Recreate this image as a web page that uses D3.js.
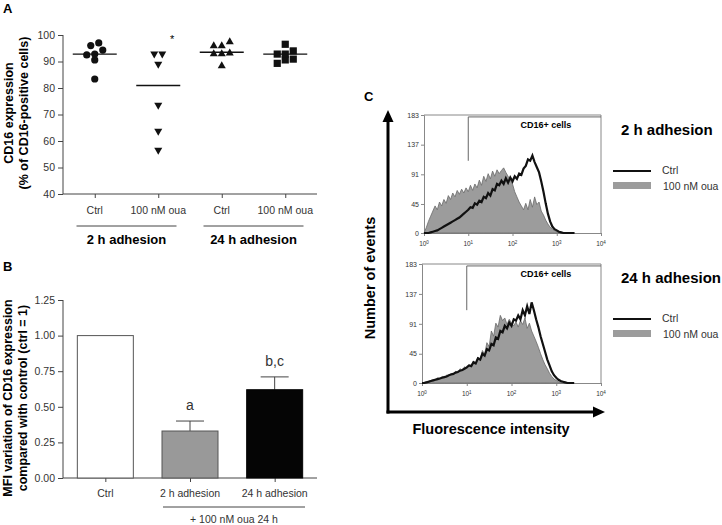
<!DOCTYPE html>
<html><head><meta charset="utf-8">
<script src="https://cdn.jsdelivr.net/npm/d3@7"></script>
<style>body{margin:0;background:#fff} text{font-family:"Liberation Sans",Arial,sans-serif}</style>
</head><body><svg id="c" width="722" height="525"></svg>
<script>
// ---------- Panel A data ----------
const aCategories = ["Ctrl", "100 nM oua", "Ctrl", "100 nM oua"];
const aGroups = ["2 h adhesion", "24 h adhesion"];
const aCtrl2h = [94.3, 92.5, 96, 97, 92.8, 90.6, 83.4];
const aOua2h = [92.6, 92.6, 88.7, 73.2, 63.4, 56.2];
const aCtrl24h = [97.7, 96.2, 96.2, 93.2, 93.2, 93.5, 88.7];
const aOua24h = [96.5, 92.8, 90.9, 89.3, 94, 90.6, 92.8];
const aSymbols = ["circle", "triDown", "triUp", "square"];
const aTicks = [40, 50, 60, 70, 80, 90, 100];
const aSignif = ["", "*", "", ""];
// ---------- Panel B data ----------
const bCategories = ["Ctrl", "2 h adhesion", "24 h adhesion"];
const bMeans = [1.00, 0.33, 0.62];
const bErrors = [0, 0.07, 0.09];
const bLetters = ["", "a", "b,c"];
const bTicks = [0, 0.25, 0.5, 0.75, 1.0, 1.25];
// ---------- Panel C data ----------
const cYTicks = [0, 45, 91, 137, 183];
const cXExponents = [0, 1, 2, 3, 4];
const cGate = 10;
const cLabels = ["2 h adhesion", "24 h adhesion"];
const cLegend = ["Ctrl", "100 nM oua"];
const gray2h = [0,8,18,26,34,42,36,48,42,52,46,58,52,62,56,66,60,68,62,70,64,74,66,76,70,82,74,88,80,92,84,96,88,98,92,97,101,94,88,82,76,64,56,48,42,36,46,36,52,40,56,44,48,34,28,20,14,9,6,4,2,1,0,0,0,0,0,0,0];
const ctrl2h = [0,0,0,1,2,3,4,6,8,10,12,14,16,18,20,22,24,27,30,33,36,40,39,46,44,50,48,56,54,62,58,68,66,76,74,81,76,85,78,86,80,88,84,92,90,100,104,114,112,120,110,102,94,80,64,46,30,18,10,6,4,2,1,0,0,0,0,0,0];
const gray24h = [0,1,2,3,4,5,6,8,7,10,9,12,11,15,13,18,16,22,19,25,22,28,26,34,30,40,36,50,44,62,56,80,72,92,86,104,96,100,90,98,92,88,94,86,96,90,100,84,92,80,72,64,55,45,36,28,22,15,10,6,4,2,1,0,0,0,0,0,0];
const ctrl24h = [0,0,1,2,3,4,5,6,7,8,9,10,12,13,14,16,17,19,20,22,24,27,26,32,30,38,36,45,42,52,50,60,58,70,68,80,78,88,84,93,88,98,96,104,98,112,104,118,106,124,112,98,86,72,60,48,36,27,18,12,8,5,3,2,1,0,0,0,0];

const svg = d3.select("#c");
const AX = "#444", TXT = "#333";

// ================= Panel A =================
svg.append("text").attr("x", 3).attr("y", 13).attr("font-size", 13).attr("font-weight", "bold").text("A");
const yA = d3.scaleLinear().domain([40, 100]).range([194, 35]);
const xA = d3.scalePoint().domain(d3.range(4)).range([63, 317]).padding(0.5);
const gAy = svg.append("g").attr("transform", "translate(63,0)")
  .call(d3.axisLeft(yA).tickValues(aTicks).tickSize(5).tickPadding(3));
const gAx = svg.append("g").attr("transform", "translate(0,194)")
  .call(d3.axisBottom(xA).tickSize(4).tickFormat(""));
[gAy, gAx].forEach(g => {
  g.select(".domain").attr("stroke", AX);
  g.selectAll(".tick line").attr("stroke", AX);
  g.selectAll(".tick text").attr("font-size", 10.5).attr("fill", TXT).attr("font-family", "Liberation Sans, Arial");
});
gAx.select(".domain").attr("d", "M63,0H317");
gAy.select(".domain").attr("d", "M0,194V35");

svg.append("g").selectAll("text").data(aCategories).join("text")
  .attr("x", (d, i) => xA(i)).attr("y", 214).attr("text-anchor", "middle")
  .attr("font-size", 10.5).attr("fill", TXT).text(d => d);
aGroups.forEach((g, gi) => {
  const cx = (xA(gi * 2) + xA(gi * 2 + 1)) / 2;
  svg.append("line").attr("x1", cx - 50).attr("x2", cx + 50).attr("y1", 226).attr("y2", 226).attr("stroke", AX);
  svg.append("text").attr("x", cx).attr("y", 244).attr("text-anchor", "middle")
    .attr("font-size", 13).attr("font-weight", "bold").text(g);
});
svg.append("text").attr("transform", "translate(13,113) rotate(-90)").attr("text-anchor", "middle")
  .attr("font-size", 12.5).attr("font-weight", "bold").text("CD16 expression");
svg.append("text").attr("transform", "translate(28,113) rotate(-90)").attr("text-anchor", "middle")
  .attr("font-size", 12.5).attr("font-weight", "bold").text("(% of CD16-positive cells)");

function layoutRows(vals, thr, step) {
  const idx = vals.map((v, i) => i).sort((a, b) => vals[b] - vals[a]);
  const rows = []; let cur = null;
  idx.forEach(i => {
    if (!cur || vals[cur[0]] - vals[i] > thr) { cur = [i]; rows.push(cur); } else cur.push(i);
  });
  const off = new Array(vals.length).fill(0);
  rows.forEach(r => {
    const s = r.slice().sort((a, b) => vals[a] - vals[b]);
    s.forEach((i, k) => off[i] = (k - (s.length - 1) / 2) * step);
  });
  return off;
}
const aSeries = [aCtrl2h, aOua2h, aCtrl24h, aOua24h];
aSeries.forEach((vals, ci) => {
  const off = layoutRows(vals, 2.4, 8);
  const cx = xA(ci);
  const g = svg.append("g");
  vals.forEach((v, i) => {
    const x = cx + off[i], y = yA(v);
    const s = aSymbols[ci];
    if (s === "circle") g.append("circle").attr("cx", x).attr("cy", y).attr("r", 3.6).attr("fill", "#111");
    else if (s === "square") g.append("rect").attr("x", x - 3.6).attr("y", y - 3.6).attr("width", 7.2).attr("height", 7.2).attr("fill", "#111");
    else if (s === "triDown") g.append("path").attr("d", `M${x - 4},${y - 3.2}L${x + 4},${y - 3.2}L${x},${y + 3.8}Z`).attr("fill", "#111");
    else g.append("path").attr("d", `M${x - 4},${y + 3.2}L${x + 4},${y + 3.2}L${x},${y - 3.8}Z`).attr("fill", "#111");
  });
  const med = d3.median(vals);
  g.append("line").attr("x1", cx - 22).attr("x2", cx + 22).attr("y1", yA(med)).attr("y2", yA(med)).attr("stroke", "#111").attr("stroke-width", 1.3);
  if (aSignif[ci]) g.append("text").attr("x", cx + 14).attr("y", yA(d3.max(vals)) - 12).attr("text-anchor", "middle")
    .attr("font-size", 11).text(aSignif[ci]);
});

// ================= Panel B =================
svg.append("text").attr("x", 3).attr("y", 271).attr("font-size", 13).attr("font-weight", "bold").text("B");
const yB = d3.scaleLinear().domain([0, 1.25]).range([478, 300]);
const xB = d3.scalePoint().domain(d3.range(3)).range([63, 317]).padding(0.5);
const gBy = svg.append("g").attr("transform", "translate(63,0)")
  .call(d3.axisLeft(yB).tickValues(bTicks).tickSize(5).tickPadding(3).tickFormat(d3.format(".2f")));
const gBx = svg.append("g").attr("transform", "translate(0,478)")
  .call(d3.axisBottom(xB).tickSize(4).tickFormat(""));
[gBy, gBx].forEach(g => {
  g.select(".domain").attr("stroke", AX);
  g.selectAll(".tick line").attr("stroke", AX);
  g.selectAll(".tick text").attr("font-size", 10.5).attr("fill", TXT).attr("font-family", "Liberation Sans, Arial");
});
gBx.select(".domain").attr("d", "M63,0H317");
gBy.select(".domain").attr("d", "M0,478V300");
const bFill = ["#fff", "#999", "#050505"];
const bW = 56;
bMeans.forEach((m, i) => {
  const cx = xB(i);
  if (bErrors[i] > 0) {
    svg.append("line").attr("x1", cx).attr("x2", cx).attr("y1", yB(m)).attr("y2", yB(m + bErrors[i])).attr("stroke", AX);
    svg.append("line").attr("x1", cx - 14).attr("x2", cx + 14).attr("y1", yB(m + bErrors[i])).attr("y2", yB(m + bErrors[i])).attr("stroke", AX);
  }
  svg.append("rect").attr("x", cx - bW / 2).attr("y", yB(m)).attr("width", bW).attr("height", yB(0) - yB(m))
    .attr("fill", bFill[i]).attr("stroke", i === 2 ? "#050505" : "#555").attr("stroke-width", 1);
  if (bLetters[i]) svg.append("text").attr("x", cx).attr("y", yB(m + bErrors[i]) - 11).attr("text-anchor", "middle")
    .attr("font-size", 14).attr("fill", TXT).text(bLetters[i]);
});
svg.append("g").selectAll("text").data(bCategories).join("text")
  .attr("x", (d, i) => xB(i)).attr("y", 497).attr("text-anchor", "middle")
  .attr("font-size", 10.5).attr("fill", TXT).text(d => d);
svg.append("line").attr("x1", 163).attr("x2", 305).attr("y1", 507).attr("y2", 507).attr("stroke", AX);
svg.append("text").attr("x", 234).attr("y", 523).attr("text-anchor", "middle").attr("font-size", 10.5).attr("fill", TXT).text("+ 100 nM oua 24 h");
svg.append("text").attr("transform", "translate(12,398) rotate(-90)").attr("text-anchor", "middle")
  .attr("font-size", 12.5).attr("font-weight", "bold").text("MFI variation of CD16 expression");
svg.append("text").attr("transform", "translate(27,398) rotate(-90)").attr("text-anchor", "middle")
  .attr("font-size", 12.5).attr("font-weight", "bold").text("compared with control (ctrl = 1)");

// ================= Panel C =================
svg.append("text").attr("x", 364).attr("y", 101).attr("font-size", 13).attr("font-weight", "bold").text("C");
svg.append("line").attr("x1", 388).attr("x2", 388).attr("y1", 413.5).attr("y2", 118).attr("stroke", "#000").attr("stroke-width", 3);
svg.append("path").attr("d", "M388,110L382.5,122L393.5,122Z").attr("fill", "#000");
svg.append("line").attr("x1", 386.5).attr("x2", 596).attr("y1", 412).attr("y2", 412).attr("stroke", "#000").attr("stroke-width", 3);
svg.append("path").attr("d", "M605,412L593,406.5L593,417.5Z").attr("fill", "#000");
svg.append("text").attr("transform", "translate(375,278) rotate(-90)").attr("text-anchor", "middle")
  .attr("font-size", 14.5).attr("font-weight", "bold").text("Number of events");
svg.append("text").attr("x", 491).attr("y", 434).attr("text-anchor", "middle")
  .attr("font-size", 14.5).attr("font-weight", "bold").text("Fluorescence intensity");

const bins = d3.range(gray2h.length).map(i => Math.pow(10, i * 0.05));
function drawHist(x0, x1, y0, y1, gray, ctrl, label, labelY) {
  const x = d3.scaleLog().domain([1, 1e4]).range([x0, x1]);
  const y = d3.scaleLinear().domain([0, 183]).range([y1, y0]);
  const g = svg.append("g");
  const FR = "#888";
  g.append("path").attr("d", `M${x0},${y0}H${x1}V${y1}`).attr("fill", "none").attr("stroke", FR);
  const ay = g.append("g").attr("transform", `translate(${x0},0)`).call(d3.axisLeft(y).tickValues(cYTicks).tickSize(3).tickPadding(2));
  ay.select(".domain").attr("stroke", FR);
  ay.selectAll(".tick line").attr("stroke", FR);
  ay.selectAll(".tick text").attr("font-size", 7).attr("fill", TXT).attr("font-family", "Liberation Sans, Arial");
  const ax = g.append("g").attr("transform", `translate(0,${y1})`).call(d3.axisBottom(x).tickValues(cXExponents.map(e => Math.pow(10, e))).tickSize(3).tickFormat(""));
  ax.select(".domain").attr("stroke", FR);
  ax.selectAll(".tick line").attr("stroke", FR);
  cXExponents.forEach(e => {
    const t = g.append("text").attr("x", x(Math.pow(10, e))).attr("y", y1 + 13).attr("text-anchor", "middle").attr("font-size", 6.5).attr("fill", TXT);
    t.append("tspan").text("10");
    t.append("tspan").attr("dy", -2.5).attr("font-size", 4.5).text(e);
  });
  const pts = bins.map((b, i) => [b, i]);
  g.append("path").datum(pts).attr("d", d3.area().x(d => x(d[0])).y0(y1).y1(d => y(gray[d[1]])))
    .attr("fill", "#9c9c9c").attr("stroke", "#6a6a6a").attr("stroke-width", 0.8);
  g.append("path").datum(pts).attr("d", d3.line().x(d => x(d[0])).y(d => y(ctrl[d[1]])))
    .attr("fill", "none").attr("stroke", "#111").attr("stroke-width", 2.2);
  g.append("path").attr("d", `M${x(cGate)},${y(112)}V${y(180)}H${x1}`).attr("fill", "none").attr("stroke", "#666");
  g.append("text").attr("x", 546).attr("y", y(163)).attr("text-anchor", "middle").attr("font-size", 9).attr("font-weight", "bold").text("CD16+ cells");
  svg.append("text").attr("x", 621).attr("y", labelY).attr("font-size", 15).attr("font-weight", "bold").text(label);
  svg.append("line").attr("x1", 613).attr("x2", 651).attr("y1", labelY + 36).attr("y2", labelY + 36).attr("stroke", "#111").attr("stroke-width", 2);
  svg.append("rect").attr("x", 613).attr("y", labelY + 47).attr("width", 38).attr("height", 7).attr("fill", "#9c9c9c");
  svg.append("text").attr("x", 662).attr("y", labelY + 39).attr("font-size", 10.5).attr("fill", TXT).text(cLegend[0]);
  svg.append("text").attr("x", 663).attr("y", labelY + 55).attr("font-size", 10.5).attr("fill", TXT).text(cLegend[1]);
}
drawHist(424, 601, 115, 233, gray2h, ctrl2h, cLabels[0], 135);
drawHist(422, 601, 264, 383, gray24h, ctrl24h, cLabels[1], 283);
</script></body></html>
